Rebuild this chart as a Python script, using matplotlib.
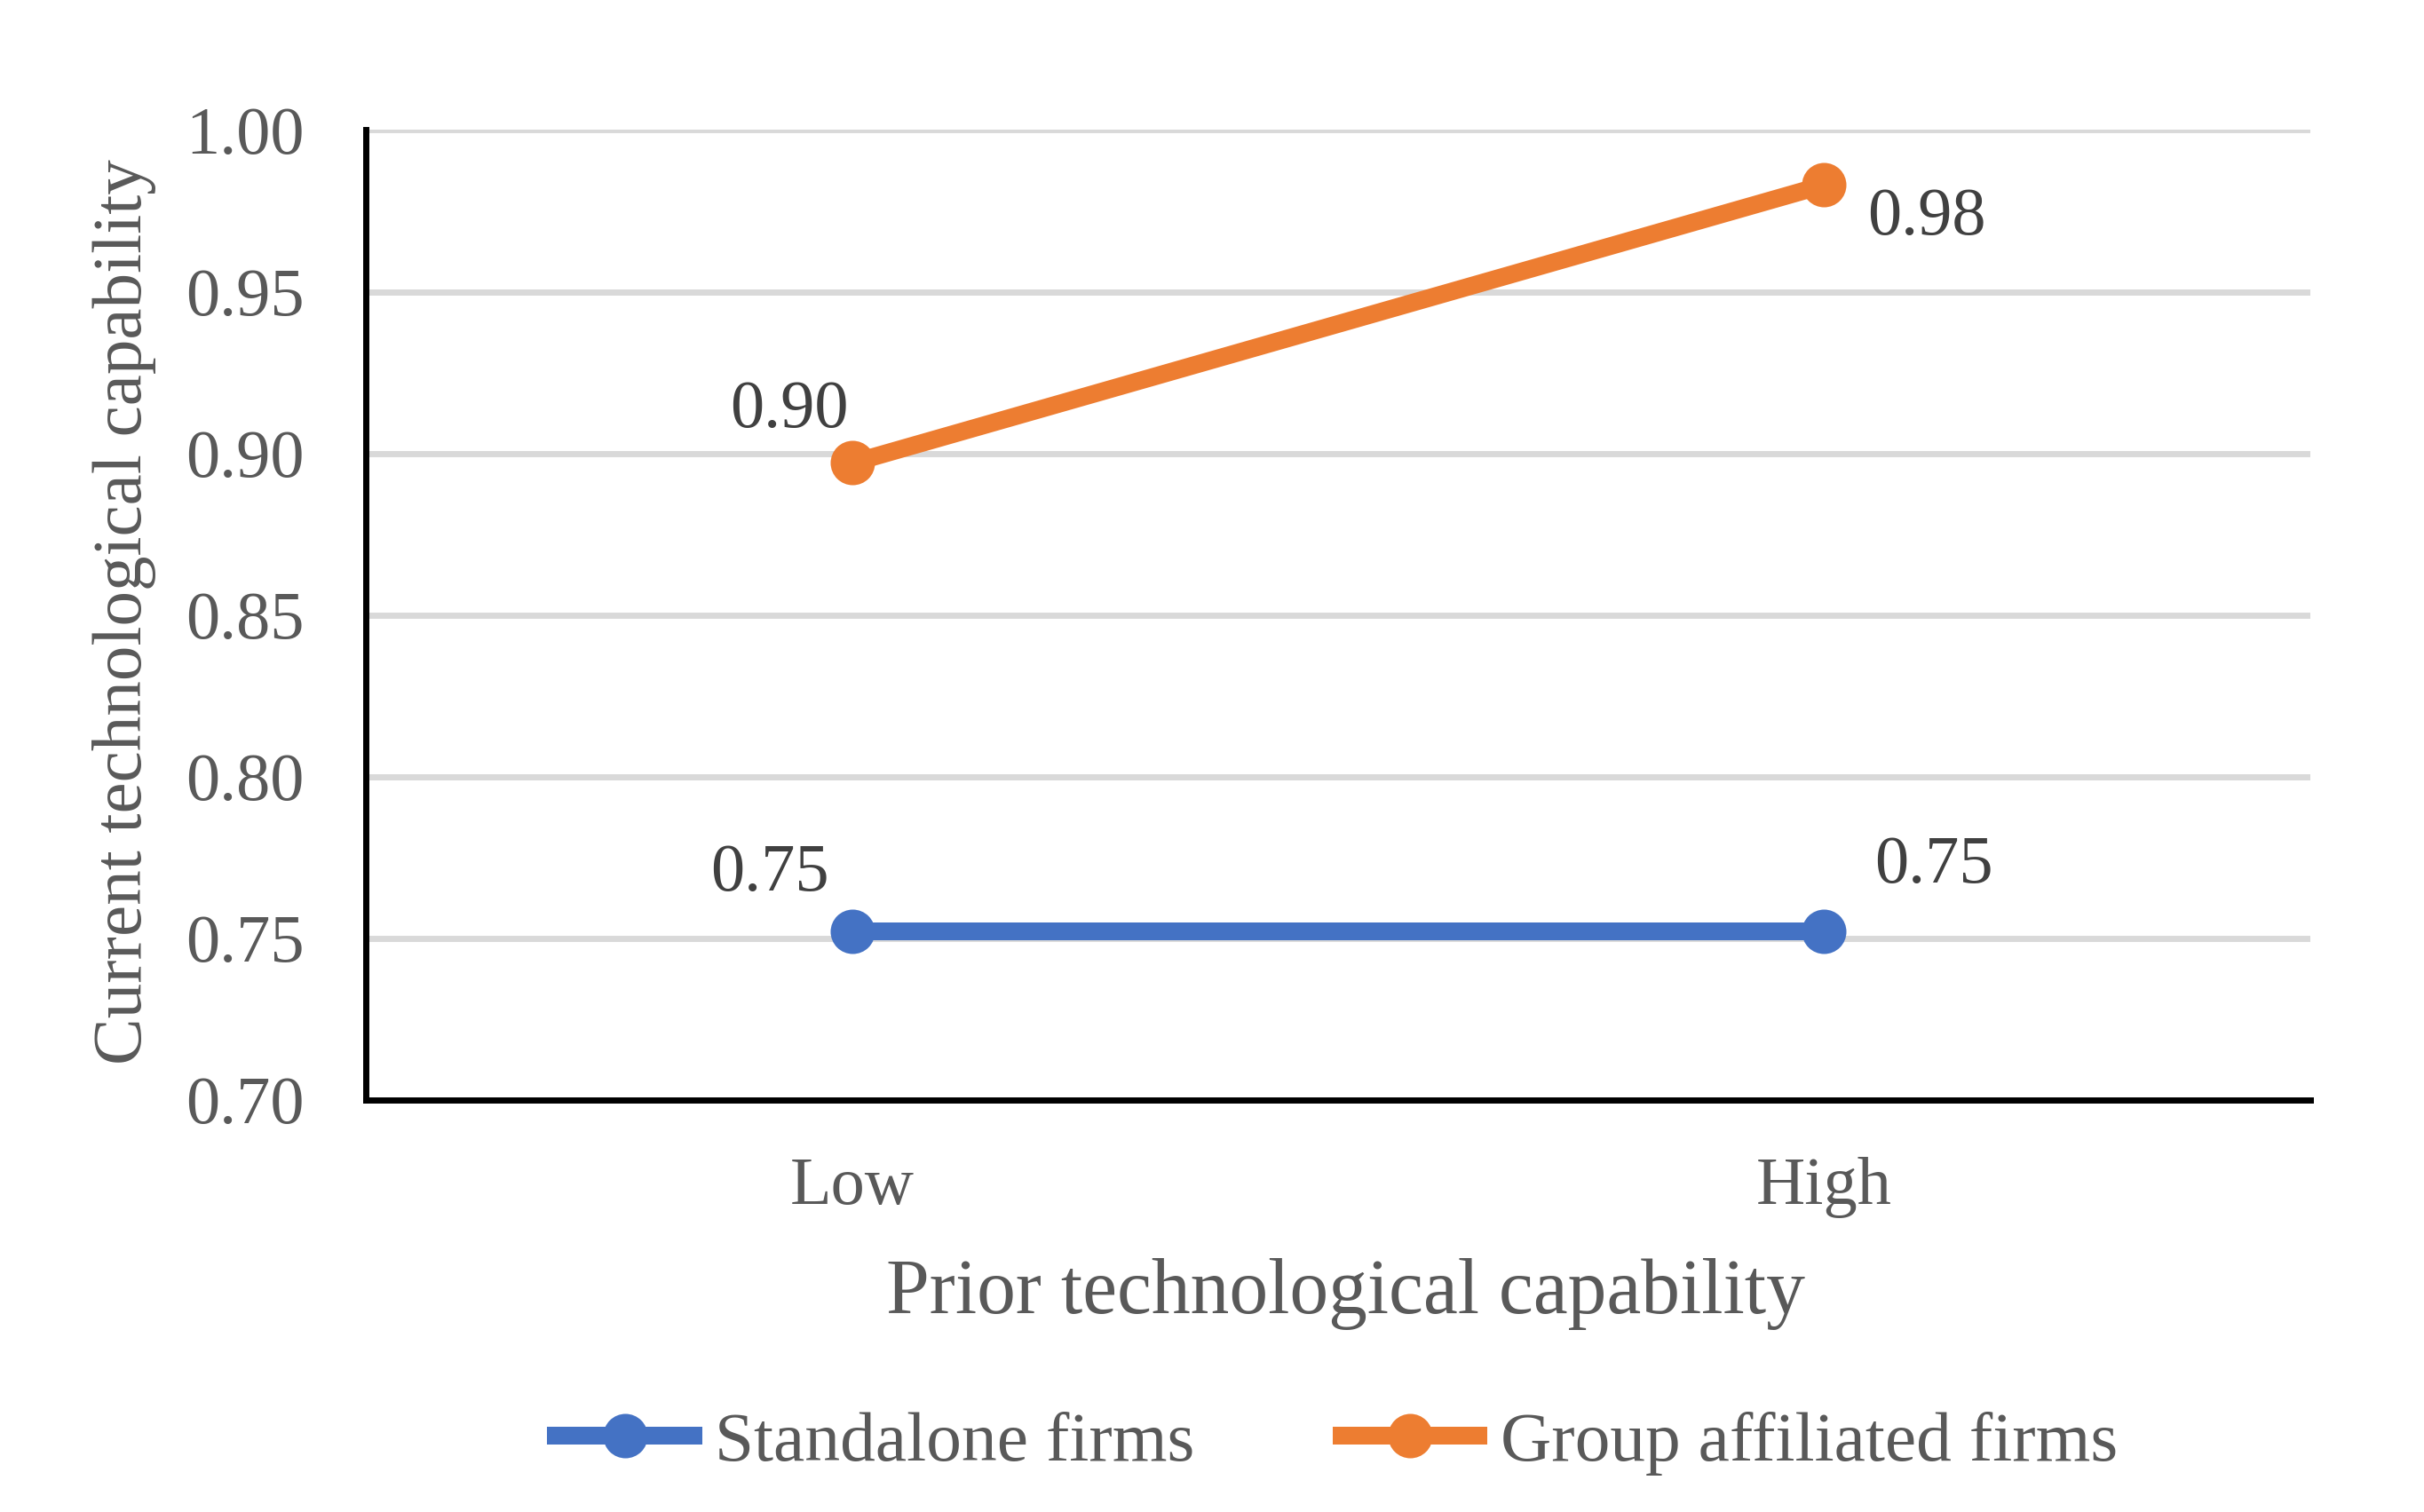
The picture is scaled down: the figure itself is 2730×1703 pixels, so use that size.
import matplotlib
matplotlib.use("Agg")
import matplotlib.pyplot as plt

categories = ["Low", "High"]
standalone = [0.752, 0.752]
group_affiliated = [0.897, 0.983]
standalone_labels = ["0.75", "0.75"]
group_labels = ["0.90", "0.98"]
yticks = [0.70, 0.75, 0.80, 0.85, 0.90, 0.95, 1.00]
ytick_labels = ["0.70", "0.75", "0.80", "0.85", "0.90", "0.95", "1.00"]

plt.rcParams['font.family'] = ['Liberation Serif', 'DejaVu Serif']

BLUE = "#4472C4"
ORANGE = "#ED7D31"
TICK = "#595959"
LABEL = "#404040"

fig = plt.figure(figsize=(13.65, 8.515), dpi=200)
ax = fig.add_axes([0.151, 0.2726, 0.802, 0.6414])

x = list(range(len(categories)))
ax.plot(x, standalone, color=BLUE, lw=7.2, marker='o', markersize=17,
        solid_capstyle='butt', label="Standalone firms", zorder=3)
ax.plot(x, group_affiliated, color=ORANGE, lw=7.2, marker='o', markersize=17,
        solid_capstyle='butt', label="Group affiliated firms", zorder=3)

offsets_g = [(-25.5, 21.4), (41.5, -13.2)]
offsets_s = [(-33.5, 23.3), (44.5, 26.5)]
for xi, v, t, off in zip(x, group_affiliated, group_labels, offsets_g):
    ax.annotate(t, (xi, v), xytext=off, textcoords='offset points',
                ha='center', va='center', fontsize=27.5, color=LABEL)
for xi, v, t, off in zip(x, standalone, standalone_labels, offsets_s):
    ax.annotate(t, (xi, v), xytext=off, textcoords='offset points',
                ha='center', va='center', fontsize=27.5, color=LABEL)

ax.set_xlim(-0.5, 1.5)
ax.set_ylim(0.70, 1.00)
ax.set_yticks(yticks)
ax.set_yticklabels(ytick_labels)
ax.set_xticks(x)
ax.set_xticklabels(categories)
ax.tick_params(axis='both', length=0, labelsize=27.5, colors=TICK)
ax.tick_params(axis='y', pad=25)
ax.tick_params(axis='x', pad=23)

ax.grid(axis='y', color="#D9D9D9", lw=2.5, zorder=0)
ax.set_axisbelow(True)
for s in ['top', 'right']:
    ax.spines[s].set_visible(False)
for s in ['left', 'bottom']:
    ax.spines[s].set_color('black')
    ax.spines[s].set_linewidth(2.5)
    ax.spines[s].set_zorder(4)

fig.text(0.555, 1 - 1458/1703, "Prior technological capability", ha='center', va='center',
         fontsize=31.5, color=TICK)
fig.text(140/2730, 0.5 * (0.2726 + 0.914) + 0.002, "Current technological capability", ha='center', va='center',
         rotation=90, fontsize=28.5, color=TICK)

leg = fig.legend(loc='center', bbox_to_anchor=(0.5497, 1 - 1626/1703), ncol=2, frameon=False,
                 fontsize=28.6, handlelength=2.2, handletextpad=0.18, columnspacing=1.95,
                 labelcolor=TICK)

fig.savefig("out.png", dpi=200)
